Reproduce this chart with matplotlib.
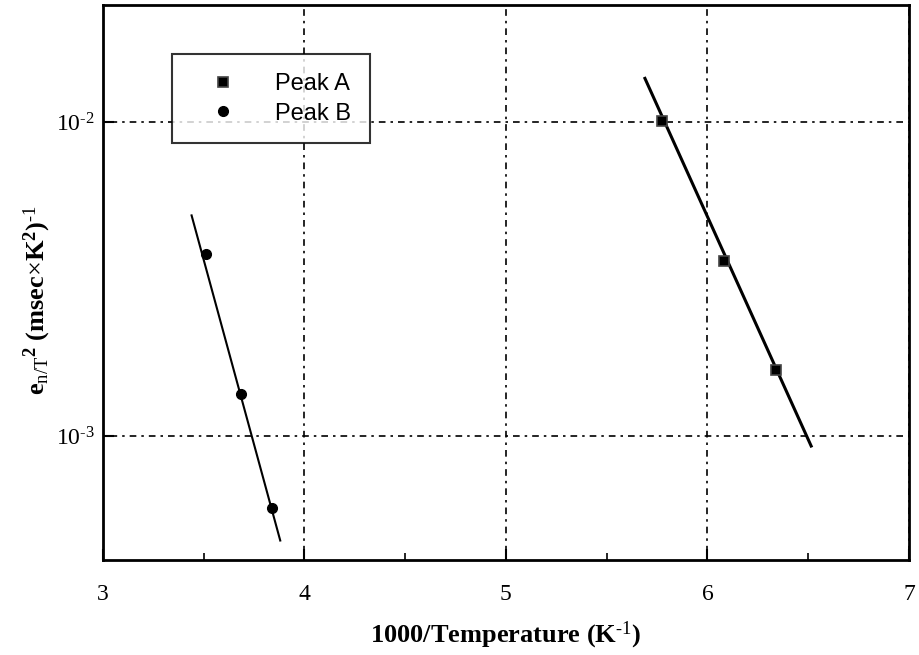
import matplotlib.pyplot as plt
from matplotlib.ticker import LogLocator, FuncFormatter, MultipleLocator, NullLocator
import numpy as np

plt.rcParams["font.family"] = "Liberation Serif"
plt.rcParams["mathtext.fontset"] = "custom"
plt.rcParams["mathtext.rm"] = "Liberation Serif"
plt.rcParams["mathtext.it"] = "Liberation Serif"
plt.rcParams["mathtext.bf"] = "Liberation Serif:bold"
plt.rcParams["axes.unicode_minus"] = False

# Peak A data and fitted line
peak_a_x = [5.775, 6.08, 6.34]
peak_a_y = [0.0101, 0.00362, 0.00162]
fit_a_x = [5.69, 6.515]
fit_a_y = [0.0138, 0.00093]

# Peak B data and fitted line
peak_b_x = [3.51, 3.685, 3.838]
peak_b_y = [0.00380, 0.00136, 0.00059]
fit_b_x = [3.44, 3.88]
fit_b_y = [0.00505, 0.000465]

fig = plt.figure(figsize=(9.19, 6.55), dpi=100)
ax = fig.add_axes([0.112, 0.145, 0.877, 0.847])

ax.plot(fit_a_x, fit_a_y, color="black", lw=2.2, zorder=3)
ax.plot(fit_b_x, fit_b_y, color="black", lw=1.5, zorder=3)
ax.plot(peak_a_x, peak_a_y, ls="none", marker="s", ms=7, mfc="black",
        mec="#444444", mew=1.2, label="Peak A", zorder=4)
ax.plot(peak_b_x, peak_b_y, ls="none", marker="o", ms=7, color="black",
        label="Peak B", zorder=4)

ax.set_yscale("log")
ax.set_xlim(3, 7)
ax.set_ylim(4.03e-4, 0.0236)

ax.xaxis.set_major_locator(MultipleLocator(1))
ax.xaxis.set_minor_locator(MultipleLocator(0.5))
ax.yaxis.set_major_locator(LogLocator(base=10))
ax.yaxis.set_major_formatter(
    FuncFormatter(lambda v, p: r"10$^{\text{%d}}$" % int(round(np.log10(v)))))
ax.yaxis.set_minor_locator(NullLocator())

ax.tick_params(axis="both", which="major", direction="in", length=8, width=1.5,
               labelsize=17)
ax.tick_params(axis="x", which="major", pad=17)
ax.tick_params(axis="y", which="major", pad=6)
ax.tick_params(axis="x", which="minor", direction="in", length=5, width=1.2)

for s in ax.spines.values():
    s.set_linewidth(2)

ax.grid(True, which="major", color="black", lw=1.2, ls=(0, (1.5, 3, 4, 3)))

ax.set_xlabel(r"1000/Temperature (K$^{\text{-1}}$)", fontsize=19,
              fontweight="bold", labelpad=11)
ax.set_ylabel(r"$\mathbf{e}_{\mathrm{n/T}}$$^{\mathbf{2}}$ (msec$\times$K$^{\mathbf{2}}$)$^{\text{-1}}$",
              fontsize=19, fontweight="bold")
ax.yaxis.set_label_coords(-0.062, 0.468)

leg = ax.legend(loc="upper left", bbox_to_anchor=(0.0856, 0.912),
                borderaxespad=0, frameon=True, fancybox=False,
                edgecolor="black", handlelength=2.7, handletextpad=0.85,
                borderpad=0.8, labelspacing=0.32, markerscale=1.0,
                prop={"family": "Liberation Sans", "size": 17})
leg.get_frame().set_linewidth(1.5)
leg.set_zorder(5)

fig.savefig("out.png", dpi=100)
